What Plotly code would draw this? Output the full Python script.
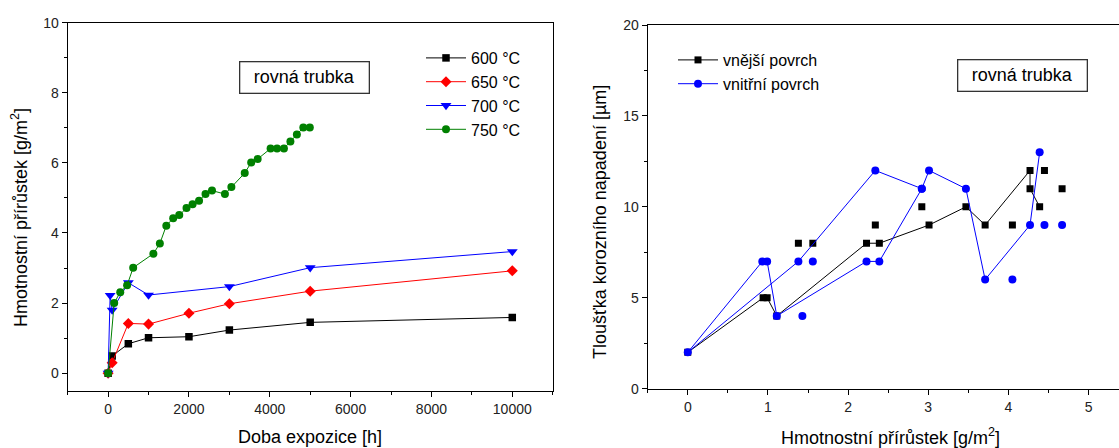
import plotly.graph_objects as go

# ---------------- Left chart data ----------------
t600 = [0, 100, 500, 1000, 2000, 3000, 5000, 10000]
m600 = [0, 0.49, 0.84, 1.01, 1.04, 1.23, 1.45, 1.59]

t650 = [0, 100, 500, 1000, 2000, 3000, 5000, 10000]
m650 = [0, 0.30, 1.42, 1.40, 1.71, 1.98, 2.34, 2.92]

t700 = [0, 50, 100, 500, 1000, 3000, 5000, 10000]
m700 = [0, 2.22, 1.80, 2.58, 2.23, 2.47, 3.01, 3.47]

t750 = [0, 150, 300, 470, 620, 1120, 1280, 1440, 1610, 1760, 1940, 2090, 2250,
        2410, 2570, 2890, 3050, 3380, 3540, 3700, 4020, 4180, 4350, 4510, 4670,
        4830, 4990]
m750 = [0, 2.0, 2.31, 2.51, 3.01, 3.41, 3.70, 4.21, 4.42, 4.51, 4.71, 4.82, 4.92,
        5.11, 5.21, 5.11, 5.31, 5.71, 6.01, 6.11, 6.41, 6.41, 6.41, 6.61, 6.81,
        7.01, 7.01]

left_labels = ["600 °C", "650 °C", "700 °C", "750 °C"]

# ---------------- Right chart data ----------------
# None separates connected runs from isolated points
vn_x = [0, 0.94, 0.99, 1.11, 2.23, 2.39, 3.01, 3.47, 3.71, 4.27, 4.27, 4.39,
        None, 1.38, None, 1.56, None, 2.34, None, 2.92, None, 4.05, None, 4.45,
        None, 4.67]
vn_y = [2, 5, 5, 4, 8, 8, 9, 10, 9, 12, 11, 10,
        None, 8, None, 8, None, 9, None, 10, None, 9, None, 12,
        None, 11]

vi_x = [2.92, 2.34, 1.38, 0, 0.93, 0.99, 1.11, 2.23, 2.39, 2.92, 3.01, 3.47,
        3.71, 4.27, 4.39, None, 1.43, None, 1.56, None, 4.05, None, 4.45,
        None, 4.67]
vi_y = [11, 12, 7, 2, 7, 7, 4, 7, 7, 11, 12, 11,
        6, 9, 13, None, 4, None, 7, None, 6, None, 9,
        None, 9]

right_labels = ["vnější povrch", "vnitřní povrch"]
box_text = "rovná trubka"

FONT = "Arial, 'Liberation Sans', sans-serif"
W, H = 1119, 448

fig = go.Figure()

left_series = [
    (t600, m600, "black", "square", 7.5),
    (t650, m650, "red", "diamond", 8.5),
    (t700, m700, "blue", "triangle-down", 9.5),
    (t750, m750, "green", "circle", 8),
]
for (x, y, c, sym, sz), name in zip(left_series, left_labels):
    fig.add_trace(go.Scatter(
        x=x, y=y, name=name, mode="lines+markers",
        line=dict(color=c, width=1),
        marker=dict(color=c, symbol=sym, size=sz, line=dict(width=0)),
        xaxis="x", yaxis="y", legend="legend"))

fig.add_trace(go.Scatter(
    x=vn_x, y=vn_y, name=right_labels[0], mode="lines+markers",
    line=dict(color="black", width=1), connectgaps=False,
    marker=dict(color="black", symbol="square", size=7, line=dict(width=0)),
    xaxis="x2", yaxis="y2", legend="legend2"))
fig.add_trace(go.Scatter(
    x=vi_x, y=vi_y, name=right_labels[1], mode="lines+markers",
    line=dict(color="blue", width=1), connectgaps=False,
    marker=dict(color="blue", symbol="circle", size=8, line=dict(width=0)),
    xaxis="x2", yaxis="y2", legend="legend2"))

axis_common = dict(
    showline=True, linecolor="black", linewidth=1.3, ticks="outside",
    ticklen=5, tickwidth=1, tickcolor="black", showgrid=False, zeroline=False,
    automargin=False, tickformat="d",
    tickfont=dict(family=FONT, size=14, color="#222"),
)
minor_common = dict(ticks="outside", ticklen=3, tickwidth=1, tickcolor="black", showgrid=False)

fig.update_layout(
    template="none",
    width=W, height=H,
    margin=dict(l=0, r=0, t=0, b=0, autoexpand=False),
    paper_bgcolor="white", plot_bgcolor="white",
    font=dict(family=FONT, size=18, color="black"),
    xaxis=dict(domain=[67.7 / W, 552.7 / W], range=[-1000, 11000], dtick=2000,
               tick0=0, mirror=True, anchor="y",
               minor=dict(dtick=1000, **minor_common), **axis_common),
    yaxis=dict(domain=[1 - 390.7 / H, 1 - 22.7 / H], range=[-0.5, 10], dtick=2,
               tick0=0, mirror=True, anchor="x",
               minor=dict(dtick=1, **minor_common), **axis_common),
    xaxis2=dict(domain=[647.7 / W, 1.0], range=[-0.5, 5.38], dtick=1,
                tick0=0, mirror=True, anchor="y2",
                minor=dict(dtick=0.5, **minor_common), **axis_common),
    yaxis2=dict(domain=[1 - 388.7 / H, 1 - 25 / H], range=[0, 20], dtick=5,
                tick0=0, mirror=False, anchor="x2",
                minor=dict(dtick=2.5, **minor_common), **axis_common),
    legend=dict(x=421 / W, y=1 - 41 / H, xanchor="left", yanchor="top",
                bgcolor="rgba(0,0,0,0)", font=dict(family=FONT, size=16),
                tracegroupgap=0, itemwidth=40, borderwidth=0),
    legend2=dict(x=673 / W, y=1 - 43 / H, xanchor="left", yanchor="top",
                 bgcolor="rgba(0,0,0,0)", font=dict(family=FONT, size=16),
                 tracegroupgap=0, itemwidth=40, borderwidth=0),
)

annotations = [
    # boxed labels
    dict(text=box_text, x=(239 + 370) / 2 / W, y=1 - (61 + 93) / 2 / H,
         xref="paper", yref="paper", showarrow=False, xanchor="center",
         yanchor="middle", width=124, height=26, borderpad=2,
         bordercolor="#333", borderwidth=1.3, font=dict(size=18)),
    dict(text=box_text, x=(957 + 1088) / 2 / W, y=1 - (59 + 91) / 2 / H,
         xref="paper", yref="paper", showarrow=False, xanchor="center",
         yanchor="middle", width=124, height=26, borderpad=2,
         bordercolor="#333", borderwidth=1.3, font=dict(size=18)),
    # axis titles
    dict(text="Doba expozice [h]", x=310 / W, y=1 - 437 / H, xref="paper",
         yref="paper", showarrow=False, xanchor="center", yanchor="middle",
         font=dict(size=18)),
    dict(text="Hmotnostní přírůstek [g/m<sup>2</sup>]", x=20 / W,
         y=1 - 218 / H, xref="paper", yref="paper", showarrow=False,
         xanchor="center", yanchor="middle", textangle=-90,
         font=dict(size=18)),
    dict(text="Hmotnostní přírůstek [g/m<sup>2</sup>]", x=890 / W,
         y=1 - 436 / H, xref="paper", yref="paper", showarrow=False,
         xanchor="center", yanchor="middle", font=dict(size=18)),
    dict(text="Tloušťka korozního napadení [µm]", x=600 / W, y=1 - 222 / H,
         xref="paper", yref="paper", showarrow=False, xanchor="center",
         yanchor="middle", textangle=-90, font=dict(size=18)),
]
fig.update_layout(annotations=annotations)

fig.write_html(
    "out.html",
    config={"displayModeBar": False},
    post_script="document.body.style.margin='0';document.body.style.overflow='hidden';",
)
